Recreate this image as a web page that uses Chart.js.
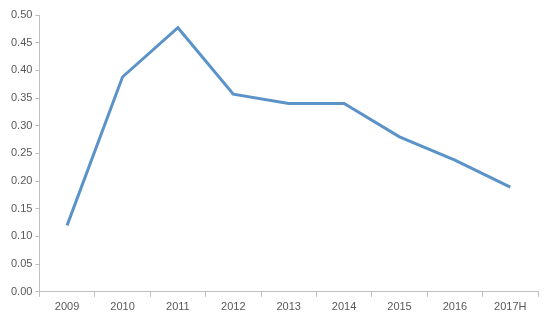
<!DOCTYPE html>
<html>
<head>
<meta charset="utf-8">
<script src="https://cdn.jsdelivr.net/npm/chart.js@4/dist/chart.umd.min.js"></script>
<style>
  html, body { margin: 0; padding: 0; background: #fff; }
  #wrap { width: 554px; height: 323px; }
</style>
</head>
<body>
<div id="wrap"><canvas id="myChart" width="554" height="323"></canvas></div>
<script>
const years = ['2009', '2010', '2011', '2012', '2013', '2014', '2015', '2016', '2017H'];
const values = [0.12, 0.388, 0.477, 0.357, 0.34, 0.34, 0.28, 0.238, 0.189];

let ctx = document.getElementById('myChart').getContext('2d');
let myChart = new Chart(ctx, {
  type: 'line',
  data: {
    labels: years,
    datasets: [{
      data: values,
      fill: false,
      borderColor: '#5B93C8',
      borderWidth: 3,
      pointRadius: 0,
      tension: 0
    }]
  },
  options: {
    responsive: false,
    animation: false,
    layout: { padding: { left: 8, right: 16, top: 15, bottom: 5 } },
    plugins: { legend: { display: false }, tooltip: { enabled: false } },
    scales: {
      x: {
        offset: true,
        grid: { offset: true, drawOnChartArea: false, drawTicks: true, tickLength: 5, color: '#BFBFBF' },
        border: { color: '#BFBFBF' },
        ticks: { color: '#595959', font: { family: 'Liberation Sans', size: 11 }, maxRotation: 0, padding: 4 }
      },
      y: {
        min: 0,
        max: 0.5,
        grid: { drawOnChartArea: false, drawTicks: true, tickLength: 4, color: '#BFBFBF' },
        border: { color: '#BFBFBF' },
        ticks: {
          stepSize: 0.05,
          color: '#595959',
          font: { family: 'Liberation Sans', size: 11 },
          padding: 3,
          callback: v => v.toFixed(2)
        }
      }
    }
  }
});
</script>
</body>
</html>
